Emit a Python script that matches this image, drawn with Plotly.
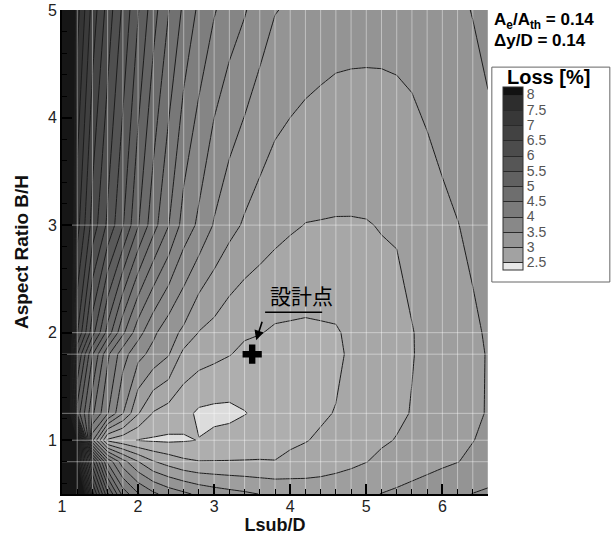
import plotly.graph_objects as go

# ---------------- data ----------------
lsub_d = [1.0, 1.2, 1.4, 1.6, 1.8, 2.0, 2.2, 2.4, 2.6, 2.8, 3.0, 3.2, 3.4, 3.6, 3.8,
          4.0, 4.2, 4.4, 4.6, 4.8, 5.0, 5.2, 5.4, 5.6, 5.8, 6.0, 6.2, 6.4, 6.6]
aspect_ratio = [0.5, 0.8, 1.0, 1.25, 1.8, 2.0, 3.0, 5.0]

loss_ar_050 = [11.0, 9.5, 6.6, 5.3, 4.4, 4.02, 3.8, 3.65, 3.55, 3.45, 3.38, 3.33, 3.29, 3.245, 3.21,
               3.18, 3.16, 3.15, 3.16, 3.18, 3.21, 3.255, 3.29, 3.33, 3.37, 3.41, 3.45, 3.505, 3.54]
loss_ar_080 = [11.0, 8.02, 5.6, 4.2, 3.6, 3.26, 3.02, 2.9, 2.8, 2.76, 2.76, 2.76, 2.76, 2.76, 2.755,
               2.8, 2.83, 2.87, 2.91, 2.95, 2.995, 3.05, 3.09, 3.13, 3.17, 3.21, 3.245, 3.29, 3.33]
loss_ar_100 = [11.0, 8.2, 3.8, 2.7, 2.58, 2.49, 2.47, 2.46, 2.48, 2.505, 2.56, 2.6, 2.64, 2.67, 2.69,
               2.71, 2.74, 2.78, 2.83, 2.88, 2.93, 2.97, 3.01, 3.06, 3.11, 3.16, 3.2, 3.245, 3.29]
loss_ar_125 = [11.0, 5.4, 4.55, 4.02, 3.51, 3.02, 2.73, 2.64, 2.57, 2.46, 2.44, 2.44, 2.49, 2.55, 2.6,
               2.64, 2.68, 2.72, 2.76, 2.82, 2.88, 2.92, 2.96, 3.01, 3.07, 3.13, 3.18, 3.22, 3.26]
loss_ar_180 = [11.0, 6.02, 5.02, 4.3, 3.85, 3.58, 3.42, 3.27, 2.93, 2.86, 2.81, 2.76, 2.7, 2.66, 2.64,
               2.63, 2.63, 2.65, 2.7, 2.79, 2.85, 2.9, 2.94, 2.99, 3.05, 3.11, 3.16, 3.21, 3.26]
loss_ar_200 = [11.0, 6.52, 5.6, 4.9, 4.3, 3.85, 3.55, 3.35, 3.2, 2.99, 2.92, 2.83, 2.78, 2.76, 2.72,
               2.715, 2.71, 2.72, 2.73, 2.79, 2.85, 2.9, 2.93, 2.99, 3.06, 3.12, 3.17, 3.22, 3.27]
loss_ar_300 = [11.0, 7.1, 6.4, 5.95, 5.52, 5.02, 4.6, 4.26, 3.9, 3.7, 3.48, 3.33, 3.22, 3.14, 3.08,
               3.03, 2.995, 2.99, 2.985, 2.985, 2.99, 3.01, 3.02, 3.09, 3.18, 3.21, 3.245, 3.29, 3.33]
loss_ar_500 = [11.0, 7.6, 6.9, 6.4, 5.95, 5.52, 5.1, 4.76, 4.45, 4.2, 4.02, 3.88, 3.77, 3.63, 3.51,
               3.47, 3.43, 3.39, 3.36, 3.35, 3.345, 3.34, 3.35, 3.35, 3.34, 3.39, 3.45, 3.51, 3.6]

loss = [loss_ar_050, loss_ar_080, loss_ar_100, loss_ar_125,
        loss_ar_180, loss_ar_200, loss_ar_300, loss_ar_500]

design_lsub = 3.5
design_ar = 1.8

legend_ticks = [2.5, 3.0, 3.5, 4.0, 4.5, 5.0, 5.5, 6.0, 6.5, 7.0, 7.5, 8.0]
legend_labels = ["2.5", "3", "3.5", "4", "4.5", "5", "5.5", "6", "6.5", "7", "7.5", "8"]
legend_range = [2.4, 8.1]

# ---------------- styles ----------------
FONT = "Liberation Sans, Arial, sans-serif"
JFONT = "Noto Sans CJK JP, sans-serif"

# (band-mid value, gray level) for the plot fill
main_gray = [(2.375, 220), (2.625, 174), (2.875, 167), (3.125, 158), (3.375, 148),
             (3.75, 136), (4.25, 123), (4.75, 110), (5.25, 97), (5.75, 86),
             (6.25, 76), (6.75, 66), (7.25, 56), (7.75, 45), (8.125, 22)]
main_lo, main_hi = main_gray[0][0], main_gray[-1][0]
main_scale = [[(v - main_lo) / (main_hi - main_lo), f"rgb({g},{g},{g})"] for v, g in main_gray]

legend_gray = [(2.25, 232), (2.75, 162), (3.25, 150), (3.75, 136), (4.25, 123), (4.75, 110),
               (5.25, 97), (5.75, 86), (6.25, 76), (6.75, 66), (7.25, 56), (7.75, 45), (8.25, 18)]
leg_lo, leg_hi = legend_gray[0][0], legend_gray[-1][0]
legend_scale = [[(v - leg_lo) / (leg_hi - leg_lo), f"rgb({g},{g},{g})"] for v, g in legend_gray]

fig = go.Figure()

fig.add_trace(go.Contour(
    x=lsub_d, y=aspect_ratio, z=loss,
    autocontour=False,
    contours=dict(start=2.5, end=8.0, size=0.25, coloring="fill", showlines=True),
    colorscale=main_scale,
    line=dict(color="#1c1c1c", width=1, smoothing=0),
    showscale=False, hoverinfo="skip",
))

# legend-only contour (kept outside the visible axis range)
fig.add_trace(go.Contour(
    x=[lsub_d[-1] + 100, lsub_d[-1] + 101], y=[aspect_ratio[-1] + 100, aspect_ratio[-1] + 101],
    z=[[legend_range[0], legend_range[1]], [legend_range[0], legend_range[1]]],
    autocontour=False,
    contours=dict(start=legend_ticks[0], end=legend_ticks[-1], size=0.5, coloring="fill", showlines=True),
    colorscale=legend_scale,
    line=dict(color="#2a2a2a", width=1, smoothing=0),
    showscale=True, hoverinfo="skip",
    colorbar=dict(
        x=1.0352, xanchor="left", xpad=0,
        y=0.652, yanchor="middle", ypad=0,
        len=183, lenmode="pixels", thickness=20, thicknessmode="pixels",
        outlinewidth=1, outlinecolor="#333", borderwidth=0,
        tickmode="array", tickvals=legend_ticks, ticktext=legend_labels,
        ticks="", ticklabelposition="outside",
        tickfont=dict(family=FONT, size=14, color="#555"),
    ),
))

# computational mesh (white lines), built from the data grid
mesh_x, mesh_y = [], []
for xv in lsub_d[1:]:
    mesh_x += [xv, xv, None]
    mesh_y += [aspect_ratio[0], aspect_ratio[-1], None]
for yv in aspect_ratio[1:-1]:
    mesh_x += [lsub_d[0], lsub_d[-1], None]
    mesh_y += [yv, yv, None]
fig.add_trace(go.Scatter(
    x=mesh_x, y=mesh_y, mode="lines",
    line=dict(color="rgba(255,255,255,0.42)", width=1),
    hoverinfo="skip", showlegend=False,
))

# design point
fig.add_trace(go.Scatter(
    x=[design_lsub], y=[design_ar], mode="markers",
    marker=dict(symbol="cross", size=16, color="black", line=dict(width=0)),
    hoverinfo="skip", showlegend=False,
))

axis_common = dict(
    showgrid=False, zeroline=False,
    showline=True, linecolor="black", linewidth=2, mirror=False,
    ticks="inside", ticklen=10, tickwidth=2, tickcolor="black",
    tickfont=dict(family=FONT, size=16, color="#222"),
    minor=dict(ticks="inside", ticklen=5, tickwidth=1, tickcolor="black", dtick=0.2, showgrid=False),
    automargin=False, layer="above traces",
)

fig.update_layout(
    width=615, height=536,
    margin=dict(l=62, r=127, t=10, b=42),
    paper_bgcolor="white", plot_bgcolor="white",
    showlegend=False,
    xaxis=dict(range=[1, 6.6], tickmode="linear", tick0=1, dtick=1, ticklabelstandoff=-3,
               title=dict(text="<b>Lsub/D</b>", font=dict(family=FONT, size=18, color="#111"), standoff=3),
               **axis_common),
    yaxis=dict(range=[0.5, 5], tickmode="linear", tick0=1, dtick=1,
               title=dict(text="<b>Aspect Ratio B/H</b>", font=dict(family=FONT, size=19, color="#111"), standoff=14),
               **axis_common),
    annotations=[
        dict(text="<b>A<sub>e</sub>/A<sub>th</sub> = 0.14</b>", xref="paper", yref="paper",
             x=1.009, y=0.977, xanchor="left", yanchor="middle", showarrow=False,
             font=dict(family=FONT, size=17, color="black")),
        dict(text="<b>\u0394y/D = 0.14</b>", xref="paper", yref="paper",
             x=1.009, y=0.936, xanchor="left", yanchor="middle", showarrow=False,
             font=dict(family=FONT, size=17, color="black")),
        dict(text="<b>Loss [%]</b>", xref="paper", yref="paper",
             x=1.141, y=0.862, xanchor="center", yanchor="middle", showarrow=False,
             font=dict(family=FONT, size=20, color="black")),
        dict(text="設計点", xref="x", yref="y", x=4.145, y=2.351,
             xanchor="center", yanchor="middle", showarrow=False,
             font=dict(family=JFONT, size=21, color="black")),
        dict(text=" ", xref="x", yref="y", x=3.553, y=1.93,
             ax=3.67, ay=2.19, axref="x", ayref="y",
             showarrow=True, arrowhead=2, arrowsize=1.2, arrowwidth=1.6, arrowcolor="black"),
    ],
    shapes=[
        dict(type="line", xref="x", yref="y", x0=3.67, y0=2.19, x1=4.42, y1=2.19,
             line=dict(color="black", width=1.6)),
        dict(type="rect", xref="paper", yref="paper", x0=1.009, x1=1.286, y0=0.438, y1=0.882,
             line=dict(color="#666", width=1), fillcolor="rgba(0,0,0,0)"),
    ],
)

fig.write_html("out.html")
